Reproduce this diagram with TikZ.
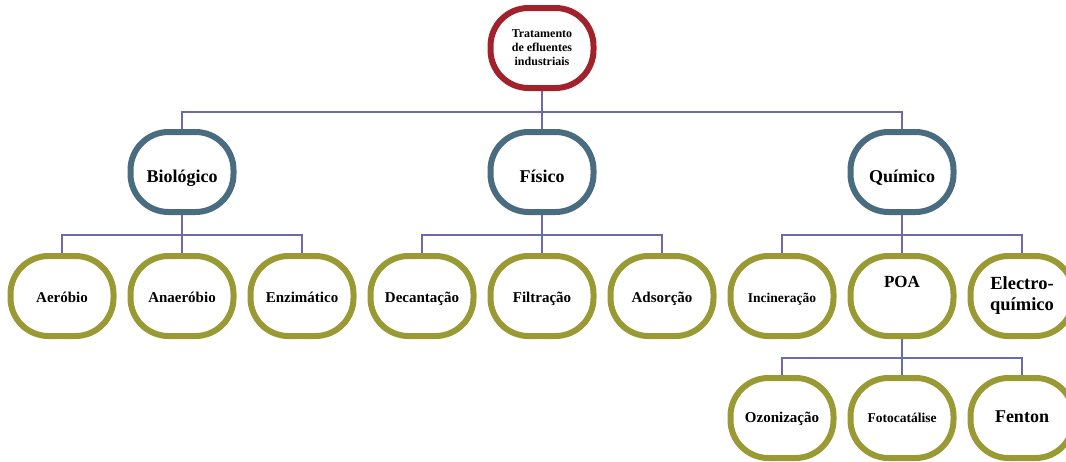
\documentclass[tikz,border=0pt]{standalone}
\usepackage{fontspec}
\setmainfont{Liberation Serif}
\usetikzlibrary{backgrounds}
\definecolor{cred}{HTML}{A2222C}
\definecolor{cblue}{HTML}{4A6C80}
\definecolor{colive}{HTML}{9A9A34}
\definecolor{cline}{HTML}{6B6BA8}
\begin{document}
\begin{tikzpicture}[x=1pt,y=-1pt,
  box/.style={draw, rounded corners=38pt, line width=6pt, minimum width=103pt,
    minimum height=80pt, fill=white, align=center, inner sep=0pt},
  rbox/.style={box, draw=cred},
  bbox/.style={box, draw=cblue, font=\fontsize{18}{20}\selectfont\bfseries, text height=20pt, text depth=0pt},
  obase/.style={box, draw=colive, font=\fontsize{15}{17}\selectfont\bfseries},
  obox/.style={obase, text height=13pt, text depth=0pt},
  qbox/.style={obase, text height=9pt, text depth=0pt},
  conn/.style={draw=cline, line width=1.6pt}]
\useasboundingbox (0,0) rectangle (1066,461);
\clip (0,0) rectangle (1066,461);
% level 1
\node[rbox, font=\fontsize{12}{14}\selectfont\bfseries] (top) at (542,48) {Tratamento\\de efluentes\\industriais};
% level 2
\node[bbox] (bio) at (182,172) {Biológico};
\node[bbox] (fis) at (542,172) {Físico};
\node[bbox] (qui) at (902,172) {Químico};
% level 3
\node[obox] (aer) at (62,296) {Aeróbio};
\node[obox] (ana) at (182,296) {Anaeróbio};
\node[obox] (enz) at (302,296) {Enzimático};
\node[obox] (dec) at (422,296) {Decantação};
\node[obox] (fil) at (542,296) {Filtração};
\node[obox] (ads) at (662,296) {Adsorção};
\node[obox, font=\fontsize{13.5}{15}\selectfont\bfseries] (inc) at (782,296) {Incineração};
\node[obase, font=\fontsize{17}{19}\selectfont\bfseries, text height=12pt, text depth=30pt] (poa) at (902,296) {POA};
\node[obase, font=\fontsize{18.5}{21}\selectfont\bfseries] (ele) at (1022,296) {Electro-\\químico};
% level 4
\node[qbox] (ozo) at (782,418) {Ozonização};
\node[qbox, font=\fontsize{13.5}{15}\selectfont\bfseries] (fot) at (902,418) {Fotocatálise};
\node[qbox, font=\fontsize{18}{20}\selectfont\bfseries] (fen) at (1022,418) {Fenton};
% bus coordinates
\coordinate (b1) at (542,112);
\coordinate (b2) at (182,235);
\coordinate (b3) at (542,235);
\coordinate (b4) at (902,235);
\coordinate (b5) at (902,358);
\begin{scope}[on background layer]
\draw[conn] (top.south) -- (b1);
\draw[conn] (bio.north) -- (bio.north |- b1) -- (qui.north |- b1) -- (qui.north);
\draw[conn] (fis.north) -- (b1);
\draw[conn] (bio.south) -- (b2);
\draw[conn] (aer.north) -- (aer.north |- b2) -- (enz.north |- b2) -- (enz.north);
\draw[conn] (ana.north) -- (b2);
\draw[conn] (fis.south) -- (b3);
\draw[conn] (dec.north) -- (dec.north |- b3) -- (ads.north |- b3) -- (ads.north);
\draw[conn] (fil.north) -- (b3);
\draw[conn] (qui.south) -- (b4);
\draw[conn] (inc.north) -- (inc.north |- b4) -- (ele.north |- b4) -- (ele.north);
\draw[conn] (poa.north) -- (b4);
\draw[conn] (poa.south) -- (b5);
\draw[conn] (ozo.north) -- (ozo.north |- b5) -- (fen.north |- b5) -- (fen.north);
\draw[conn] (fot.north) -- (b5);
\end{scope}
\end{tikzpicture}
\end{document}
